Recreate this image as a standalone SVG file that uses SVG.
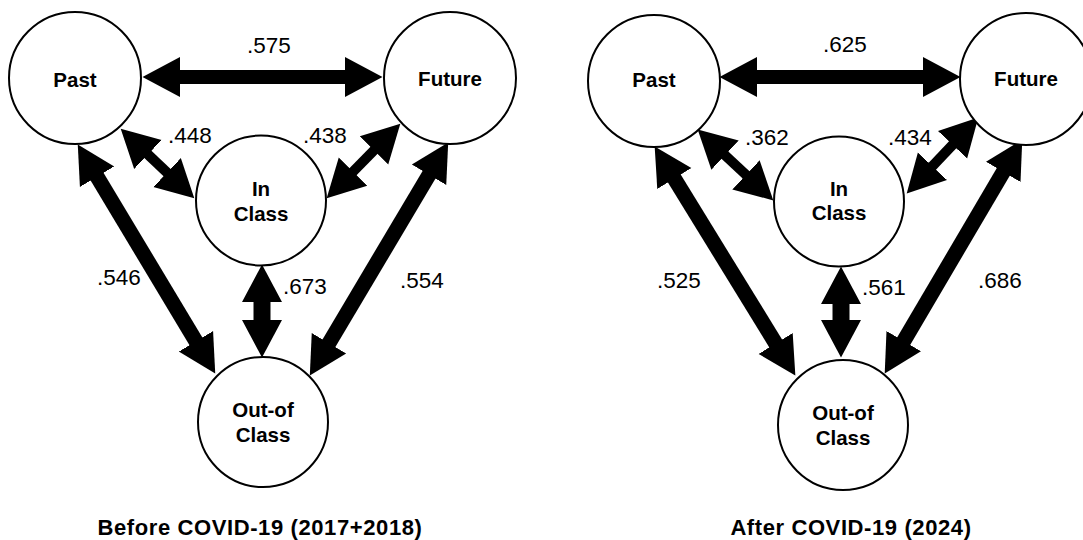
<svg xmlns="http://www.w3.org/2000/svg" width="1083" height="540" viewBox="0 0 1083 540">
<style>
.node circle{fill:#fff;stroke:#000;stroke-width:2}
.node text{font-family:"Liberation Sans",Arial,sans-serif;font-weight:bold;font-size:20.5px;text-anchor:middle;fill:#000}
.lbl{font-family:"Liberation Sans",Arial,sans-serif;font-size:22.5px;fill:#000}
.title{font-family:"Liberation Sans",Arial,sans-serif;font-weight:bold;font-size:22px;text-anchor:middle;fill:#000;letter-spacing:0.6px}
.conn line{stroke:#000;fill:none}
.w14{stroke-width:14}
.w10{stroke-width:10}
.w15{stroke-width:15}
.w17{stroke-width:17}
</style>
<defs>
<marker id="head" markerUnits="userSpaceOnUse" markerWidth="44" markerHeight="44" viewBox="0 -22 44 44" refX="5" refY="0" orient="auto-start-reverse">
<path d="M0,-20 L37.5,0 L0,20 Z" fill="#000"/>
</marker>
</defs>
<rect width="1083" height="540" fill="#fff"/>
<g id="connectors" class="conn">
<line class="w14" x1="175" y1="77" x2="350" y2="77" marker-start="url(#head)" marker-end="url(#head)"/>
<line class="w10" x1="144.3" y1="151" x2="170.7" y2="176" marker-start="url(#head)" marker-end="url(#head)"/>
<line class="w10" x1="349.5" y1="175.2" x2="377.5" y2="146.8" marker-start="url(#head)" marker-end="url(#head)"/>
<line class="w15" x1="94.5" y1="172.4" x2="198.5" y2="345.6" marker-start="url(#head)" marker-end="url(#head)"/>
<line class="w15" x1="431.6" y1="170.5" x2="326.4" y2="347.5" marker-start="url(#head)" marker-end="url(#head)"/>
<line class="w17" x1="262" y1="297" x2="262" y2="325" marker-start="url(#head)" marker-end="url(#head)"/>
<line class="w14" x1="752" y1="77" x2="928" y2="77" marker-start="url(#head)" marker-end="url(#head)"/>
<line class="w10" x1="721.4" y1="151.8" x2="749.6" y2="178.2" marker-start="url(#head)" marker-end="url(#head)"/>
<line class="w10" x1="929" y1="169.8" x2="956" y2="141.2" marker-start="url(#head)" marker-end="url(#head)"/>
<line class="w15" x1="671.7" y1="174.3" x2="778.3" y2="347.7" marker-start="url(#head)" marker-end="url(#head)"/>
<line class="w15" x1="1005.8" y1="167.6" x2="901.2" y2="345.4" marker-start="url(#head)" marker-end="url(#head)"/>
<line class="w17" x1="841" y1="299" x2="841" y2="325" marker-start="url(#head)" marker-end="url(#head)"/>
</g>
<g id="labels">
<text class="lbl" x="247" y="53">.575</text>
<text class="lbl" x="168" y="143">.448</text>
<text class="lbl" x="303" y="143">.438</text>
<text class="lbl" x="97" y="285">.546</text>
<text class="lbl" x="283" y="294">.673</text>
<text class="lbl" x="400" y="288">.554</text>
<text class="lbl" x="823" y="52">.625</text>
<text class="lbl" x="745" y="145">.362</text>
<text class="lbl" x="888" y="145">.434</text>
<text class="lbl" x="657" y="288">.525</text>
<text class="lbl" x="862" y="295">.561</text>
<text class="lbl" x="978" y="288">.686</text>
</g>
<g id="past1" class="node"><circle cx="75" cy="78" r="66"/><text x="75" y="87">Past</text></g>
<g id="future1" class="node"><circle cx="450" cy="78" r="66"/><text x="450" y="86">Future</text></g>
<g id="inclass1" class="node"><circle cx="261" cy="200.5" r="65"/><text x="261" y="196">In</text><text x="261" y="220.5">Class</text></g>
<g id="outclass1" class="node"><circle cx="263" cy="422" r="65"/><text x="263" y="417">Out-of</text><text x="263" y="441.5">Class</text></g>
<g id="past2" class="node"><circle cx="654" cy="81" r="66"/><text x="654" y="87">Past</text></g>
<g id="future2" class="node"><circle cx="1026" cy="79" r="66"/><text x="1026" y="86">Future</text></g>
<g id="inclass2" class="node"><circle cx="839" cy="201.5" r="65"/><text x="839" y="195.5">In</text><text x="839" y="220">Class</text></g>
<g id="outclass2" class="node"><circle cx="843" cy="425" r="65"/><text x="843" y="420">Out-of</text><text x="843" y="445">Class</text></g>
<text class="title" x="260" y="535">Before COVID-19 (2017+2018)</text>
<text class="title" x="851" y="535">After COVID-19 (2024)</text>
</svg>
